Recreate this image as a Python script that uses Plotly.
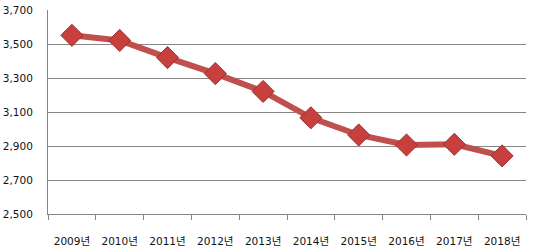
import plotly.graph_objects as go

years = ["2009년", "2010년", "2011년", "2012년", "2013년", "2014년", "2015년", "2016년", "2017년", "2018년"]
values = [3551, 3521, 3420, 3326, 3221, 3066, 2965, 2906, 2910, 2842]
y_ticks = [2500, 2700, 2900, 3100, 3300, 3500, 3700]
y_tick_labels = ["2,500", "2,700", "2,900", "3,100", "3,300", "3,500", "3,700"]

font_family = "DejaVu Sans, Noto Sans CJK KR, sans-serif"

fig = go.Figure()
fig.add_trace(go.Scatter(
    x=years, y=values, mode="lines+markers",
    line=dict(color="#C0504D", width=6),
    marker=dict(symbol="diamond", size=17, color="#C8403D",
                line=dict(color="#9B2F2C", width=1)),
    showlegend=False, cliponaxis=False,
))

fig.update_layout(
    width=537, height=250,
    margin=dict(l=48, r=11, t=10, b=36, autoexpand=False),
    paper_bgcolor="white", plot_bgcolor="white",
    font=dict(family=font_family, size=10.5, color="#111111"),
    xaxis=dict(
        type="category", range=[-0.5, 9.5], automargin=False,
        showgrid=False, showline=True, linecolor="#868686", linewidth=1,
        ticks="outside", ticklen=5, tickcolor="#868686",
        tickson="boundaries", ticklabelstandoff=17,
        tickfont=dict(size=10.5, family=font_family),
        fixedrange=True,
    ),
    yaxis=dict(
        range=[2500, 3700], tickvals=y_ticks, ticktext=y_tick_labels,
        automargin=False,
        showgrid=True, gridcolor="#868686", gridwidth=1,
        showline=True, linecolor="#868686", linewidth=1,
        ticks="", ticklabelstandoff=12, zeroline=False,
        tickfont=dict(size=10.5, family=font_family),
        fixedrange=True,
    ),
)

fig.write_html("out.html")
